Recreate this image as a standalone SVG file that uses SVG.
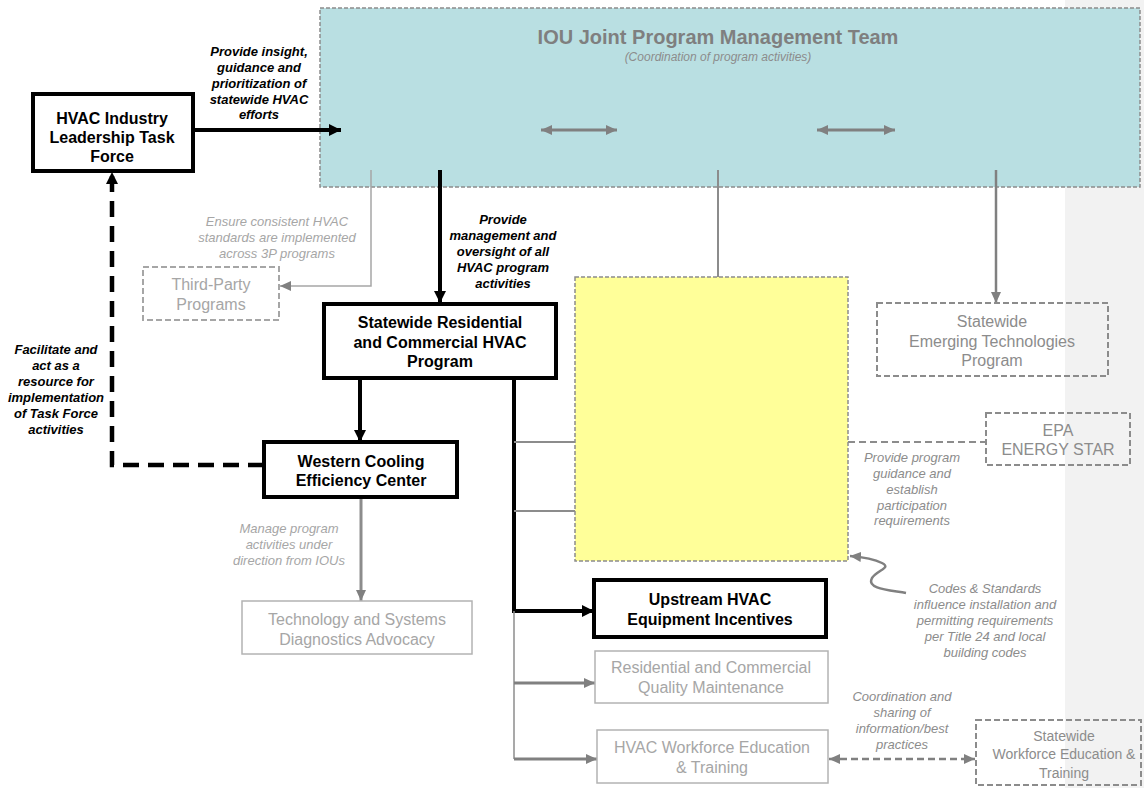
<svg xmlns="http://www.w3.org/2000/svg" width="1144" height="788" viewBox="0 0 1144 788">
<style>
text{font-family:"Liberation Sans",Arial,sans-serif;text-anchor:middle}
.bx{font-weight:bold;font-size:16px;fill:#000}
.gb{font-size:16px;fill:#a6a6a6}
.gd{font-size:16px;fill:#8c8c8c}
.lb{font-weight:bold;font-style:italic;font-size:13px;fill:#000}
.lg{font-style:italic;font-size:13px;fill:#a6a6a6}
.ld{font-style:italic;font-size:13px;fill:#8c8c8c}
.bk{fill:#fff;stroke:#000;stroke-width:4}
.dsh{fill:none;stroke:#8c8c8c;stroke-width:2;stroke-dasharray:6,3}
.sol{fill:#fff;stroke:#b3b3b3;stroke-width:1.5}
</style>
<defs>
<marker id="ab" markerUnits="userSpaceOnUse" markerWidth="14" markerHeight="14" refX="12" refY="7" orient="auto"><path d="M0,1 L12,7 L0,13 z" fill="#000"/></marker>
<marker id="ag" markerUnits="userSpaceOnUse" markerWidth="12" markerHeight="12" refX="11" refY="6" orient="auto"><path d="M0,1 L11,6 L0,11 z" fill="#808080"/></marker>
<marker id="ags" markerUnits="userSpaceOnUse" markerWidth="12" markerHeight="12" refX="1" refY="6" orient="auto"><path d="M12,1 L1,6 L12,11 z" fill="#808080"/></marker>
</defs>
<rect x="1065" y="0" width="79" height="788" fill="#f2f2f2"/>

<g id="iou-team">
<rect x="320" y="8" width="820" height="179" fill="#b9dfe2" stroke="#8c8c8c" stroke-width="1.5" stroke-dasharray="4,2"/>
<text x="718" y="44" style="font-weight:bold;font-size:20px;fill:#7f7f7f">IOU Joint Program Management Team</text>
<text x="718" y="61" style="font-style:italic;font-size:12px;fill:#8c8c8c">(Coordination of program activities)</text>
</g>

<g id="connectors" fill="none">
<line x1="193" y1="130" x2="341" y2="130" stroke="#000" stroke-width="4" marker-end="url(#ab)"/>
<line x1="541" y1="130" x2="617" y2="130" stroke="#808080" stroke-width="3" marker-start="url(#ags)" marker-end="url(#ag)"/>
<line x1="817" y1="130" x2="895" y2="130" stroke="#808080" stroke-width="3" marker-start="url(#ags)" marker-end="url(#ag)"/>
<path d="M371,170 V286 H280" stroke="#a6a6a6" stroke-width="1.5" marker-end="url(#ag)"/>
<line x1="440" y1="170" x2="440" y2="303" stroke="#000" stroke-width="4" marker-end="url(#ab)"/>
<line x1="718" y1="170" x2="718" y2="277" stroke="#8c8c8c" stroke-width="2"/>
<line x1="996" y1="170" x2="996" y2="303" stroke="#808080" stroke-width="2.5" marker-end="url(#ag)"/>
<line x1="360" y1="378" x2="360" y2="442" stroke="#000" stroke-width="4" marker-end="url(#ab)"/>
<path d="M264,465 H112 V172" stroke="#000" stroke-width="4.5" stroke-dasharray="16,9" marker-end="url(#ab)"/>
<line x1="361" y1="497" x2="361" y2="601" stroke="#8c8c8c" stroke-width="3" marker-end="url(#ag)"/>
<path d="M514,378 V611 H594" stroke="#000" stroke-width="4" marker-end="url(#ab)"/>
<line x1="514" y1="442" x2="575" y2="442" stroke="#8c8c8c" stroke-width="2"/>
<line x1="514" y1="511" x2="575" y2="511" stroke="#8c8c8c" stroke-width="2"/>
<path d="M514,611 V759" stroke="#8c8c8c" stroke-width="1.5"/>
<line x1="514" y1="683" x2="595" y2="683" stroke="#808080" stroke-width="3" marker-end="url(#ag)"/>
<line x1="514" y1="759" x2="597" y2="759" stroke="#808080" stroke-width="3" marker-end="url(#ag)"/>
<line x1="848" y1="442" x2="986" y2="442" stroke="#8c8c8c" stroke-width="2" stroke-dasharray="7,4"/>
<line x1="829" y1="759" x2="975" y2="759" stroke="#808080" stroke-width="2.5" stroke-dasharray="7,4" marker-start="url(#ags)" marker-end="url(#ag)"/>
<path d="M906,593 C890,590 866,589 872,578 C877,570 892,568 882,563 C874,559 862,557 850,556" stroke="#808080" stroke-width="2.5" marker-end="url(#ag)"/>
</g>

<g id="hvac-task-force">
<rect class="bk" x="33" y="94" width="160" height="77"/>
<text class="bx" x="112" y="124">HVAC Industry</text>
<text class="bx" x="112" y="143">Leadership Task</text>
<text class="bx" x="112" y="162">Force</text>
</g>
<g id="label-insight">
<text class="lb" x="259" y="56">Provide insight,</text>
<text class="lb" x="259" y="72">guidance and</text>
<text class="lb" x="259" y="88">prioritization of</text>
<text class="lb" x="259" y="104">statewide HVAC</text>
<text class="lb" x="259" y="119">efforts</text>
</g>
<g id="label-ensure">
<text class="lg" x="277" y="226">Ensure consistent HVAC</text>
<text class="lg" x="277" y="242">standards are implemented</text>
<text class="lg" x="277" y="258">across 3P programs</text>
</g>
<g id="third-party">
<rect x="143" y="267" width="136" height="53" fill="none" stroke="#a6a6a6" stroke-width="2" stroke-dasharray="6,3"/>
<text class="gb" x="211" y="290">Third-Party</text>
<text class="gb" x="211" y="310">Programs</text>
</g>
<g id="label-management">
<text class="lb" x="503" y="224">Provide</text>
<text class="lb" x="503" y="240">management and</text>
<text class="lb" x="503" y="256">oversight of all</text>
<text class="lb" x="503" y="272">HVAC program</text>
<text class="lb" x="503" y="288">activities</text>
</g>
<g id="statewide-program">
<rect class="bk" x="324" y="304" width="232" height="74"/>
<text class="bx" x="440" y="328">Statewide Residential</text>
<text class="bx" x="440" y="348">and Commercial HVAC</text>
<text class="bx" x="440" y="367">Program</text>
</g>
<g id="yellow-box">
<rect x="575" y="277" width="273" height="284" fill="#ffff99" stroke="#8c8c8c" stroke-width="1.5" stroke-dasharray="4,2"/>
</g>
<g id="emerging-tech">
<rect class="dsh" x="877" y="303" width="231" height="73"/>
<text class="gd" x="992" y="327">Statewide</text>
<text class="gd" x="992" y="347">Emerging Technologies</text>
<text class="gd" x="992" y="366">Program</text>
</g>
<g id="epa">
<rect class="dsh" x="986" y="413" width="144" height="52"/>
<text class="gd" x="1058" y="436">EPA</text>
<text class="gd" x="1058" y="455">ENERGY STAR</text>
</g>
<g id="label-guidance">
<text class="ld" x="912" y="462">Provide program</text>
<text class="ld" x="912" y="478">guidance and</text>
<text class="ld" x="912" y="494">establish</text>
<text class="ld" x="912" y="510">participation</text>
<text class="ld" x="912" y="525">requirements</text>
</g>
<g id="label-facilitate">
<text class="lb" x="56" y="354">Facilitate and</text>
<text class="lb" x="56" y="370">act as a</text>
<text class="lb" x="56" y="386">resource for</text>
<text class="lb" x="56" y="402">implementation</text>
<text class="lb" x="56" y="418">of Task Force</text>
<text class="lb" x="56" y="434">activities</text>
</g>
<g id="wcec">
<rect class="bk" x="264" y="442" width="193" height="55"/>
<text class="bx" x="361" y="467">Western Cooling</text>
<text class="bx" x="361" y="486">Efficiency Center</text>
</g>
<g id="label-manage">
<text class="lg" x="289" y="533">Manage program</text>
<text class="lg" x="289" y="549">activities under</text>
<text class="lg" x="289" y="565">direction from IOUs</text>
</g>
<g id="tech-systems">
<rect class="sol" x="242" y="601" width="230" height="53"/>
<text class="gb" x="357" y="625">Technology and Systems</text>
<text class="gb" x="357" y="645">Diagnostics Advocacy</text>
</g>
<g id="upstream">
<rect class="bk" x="594" y="580" width="232" height="57"/>
<text class="bx" x="710" y="605">Upstream HVAC</text>
<text class="bx" x="710" y="625">Equipment Incentives</text>
</g>
<g id="label-codes">
<text class="ld" x="985" y="593">Codes &amp; Standards</text>
<text class="ld" x="985" y="609">influence installation  and</text>
<text class="ld" x="985" y="625">permitting requirements</text>
<text class="ld" x="985" y="641">per Title 24 and local</text>
<text class="ld" x="985" y="657">building codes</text>
</g>
<g id="quality-maintenance">
<rect class="sol" x="595" y="651" width="233" height="52"/>
<text class="gb" x="711" y="673">Residential and Commercial</text>
<text class="gb" x="711" y="693">Quality Maintenance</text>
</g>
<g id="label-coordination">
<text class="ld" x="902" y="701">Coordination and</text>
<text class="ld" x="902" y="717">sharing of</text>
<text class="ld" x="902" y="733">information/best</text>
<text class="ld" x="902" y="749">practices</text>
</g>
<g id="workforce">
<rect class="sol" x="597" y="730" width="231" height="53"/>
<text class="gb" x="712" y="753">HVAC Workforce Education</text>
<text class="gb" x="712" y="773">&amp; Training</text>
</g>
<g id="statewide-workforce">
<rect class="dsh" x="976" y="720" width="165" height="65"/>
<text class="gd" x="1064" y="741" style="font-size:14px">Statewide</text>
<text class="gd" x="1064" y="759" style="font-size:14px">Workforce Education &amp;</text>
<text class="gd" x="1064" y="778" style="font-size:14px">Training</text>
</g>
</svg>
